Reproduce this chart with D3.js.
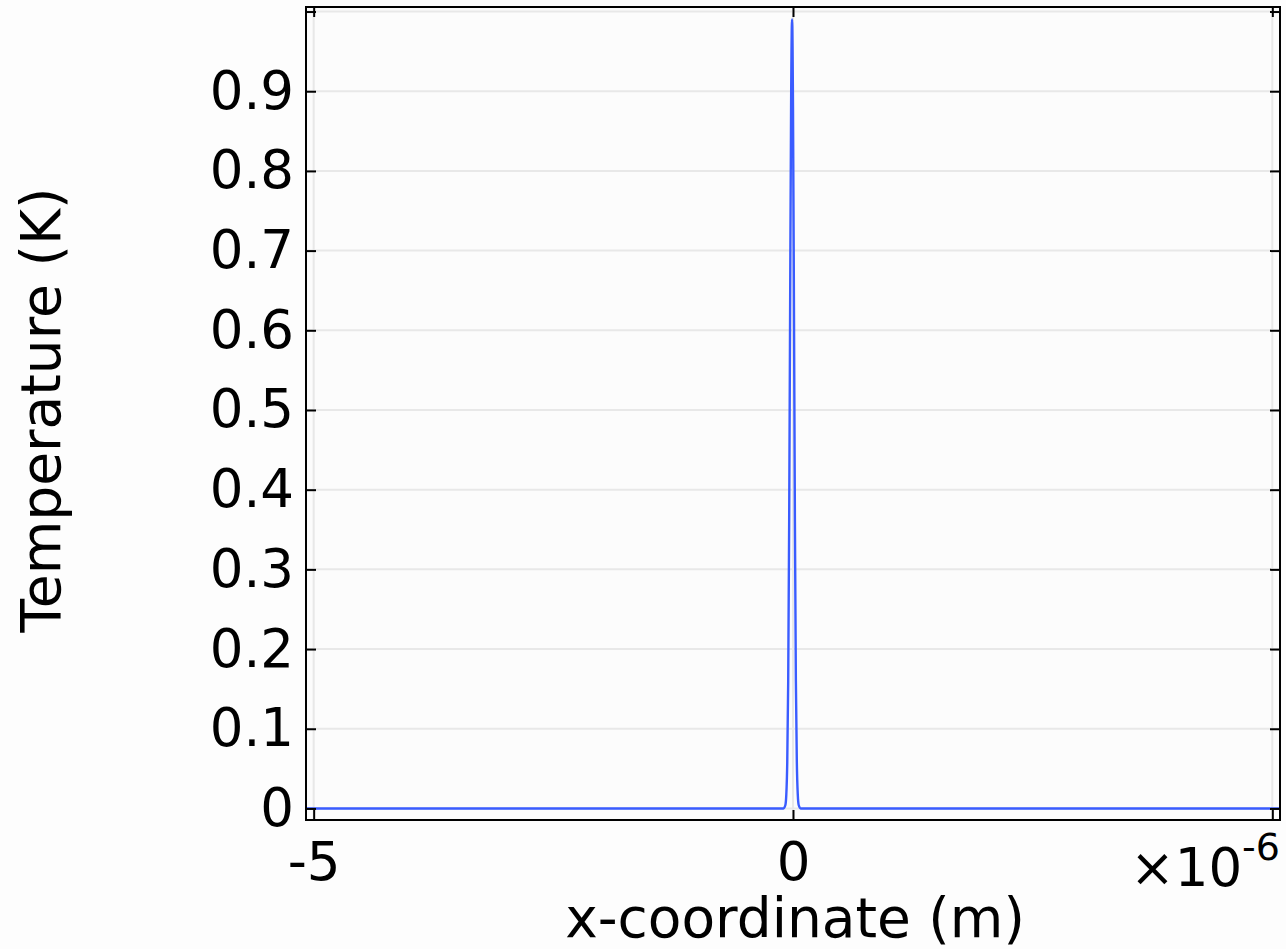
<!DOCTYPE html>
<html>
<head>
<meta charset="utf-8">
<script src="https://cdn.jsdelivr.net/npm/d3@7"></script>
<style>
  html, body { margin: 0; padding: 0; background: #fdfdfd; }
  svg { display: block; font-family: "DejaVu Sans", sans-serif; }
</style>
</head>
<body>
<svg id="chart" width="1286" height="949"></svg>
<script>
// Temperature profile along the x-coordinate (x in micrometres, scaled by 1e-6 on the axis)
const xMicro = [-5.08, -0.10, -0.08, -0.07, -0.06, -0.05, -0.04, -0.03, -0.02, -0.01,
                0.00, 0.01, 0.02, 0.03, 0.04, 0.05, 0.06, 0.08, 5.08];
const temperature = [0, 0, 0.004, 0.017, 0.058, 0.16, 0.36, 0.63, 0.88, 0.99,
                     0.88, 0.63, 0.36, 0.16, 0.058, 0.017, 0.004, 0, 0];

const yTicks = [0, 0.1, 0.2, 0.3, 0.4, 0.5, 0.6, 0.7, 0.8, 0.9, 1.0];
const yTickLabels = ["0", "0.1", "0.2", "0.3", "0.4", "0.5", "0.6", "0.7", "0.8", "0.9", ""];
const xTicks = [-5, 0, 5];
const xTickLabels = ["-5", "0", ""];

const xTitle = "x-coordinate (m)";
const yTitle = "Temperature (K)";

const points = xMicro.map((x, i) => ({ x, t: temperature[i] }));

const svg = d3.select("#chart");
const plot = { left: 306, right: 1280, top: 7, bottom: 820 };

const x = d3.scaleLinear().domain([-5.08, 5.08]).range([plot.left, plot.right]);
const y = d3.scaleLinear().domain([-0.0145, 1.0057]).range([plot.bottom, plot.top]);

// plot background
svg.append("rect")
  .attr("x", plot.left).attr("y", plot.top)
  .attr("width", plot.right - plot.left).attr("height", plot.bottom - plot.top)
  .attr("fill", "#fcfcfc");

// grid lines
const grid = svg.append("g").attr("stroke", "#e8e8e8").attr("stroke-width", 2);
grid.selectAll("line.h").data(yTicks).join("line")
  .attr("x1", plot.left).attr("x2", plot.right)
  .attr("y1", d => y(d)).attr("y2", d => y(d));
grid.selectAll("line.v").data(xTicks).join("line")
  .attr("y1", plot.top).attr("y2", plot.bottom)
  .attr("x1", d => x(d)).attr("x2", d => x(d));

// data line
const line = d3.line().x(d => x(d.x)).y(d => y(d.t)).curve(d3.curveMonotoneX);
svg.append("path")
  .datum(points)
  .attr("d", line)
  .attr("fill", "none")
  .attr("stroke", "#3a5cff")
  .attr("stroke-width", 2.4)
  .attr("stroke-linejoin", "round");

// axes with inward ticks on all four sides
const tickLen = 10;
const axL = d3.axisLeft(y).tickValues(yTicks).tickSize(-tickLen).tickFormat((d, i) => yTickLabels[i]).tickPadding(12);
const axR = d3.axisRight(y).tickValues(yTicks).tickSize(-tickLen).tickFormat("");
const axB = d3.axisBottom(x).tickValues(xTicks).tickSize(-tickLen).tickFormat((d, i) => xTickLabels[i]).tickPadding(22);
const axT = d3.axisTop(x).tickValues(xTicks).tickSize(-tickLen).tickFormat("");

function styleAxis(g) {
  g.select(".domain").remove();
  g.selectAll(".tick line").attr("stroke", "#000").attr("stroke-width", 2);
  g.selectAll(".tick text").attr("fill", "#000").attr("font-size", 53)
    .attr("font-family", "'DejaVu Sans', sans-serif");
}

svg.append("g").attr("transform", `translate(${plot.left},0)`).call(axL).call(styleAxis);
svg.append("g").attr("transform", `translate(${plot.right},0)`).call(axR).call(styleAxis);
svg.append("g").attr("transform", `translate(0,${plot.bottom})`).call(axB).call(styleAxis);
svg.append("g").attr("transform", `translate(0,${plot.top})`).call(axT).call(styleAxis);

// frame
svg.append("rect")
  .attr("x", plot.left).attr("y", plot.top)
  .attr("width", plot.right - plot.left).attr("height", plot.bottom - plot.top)
  .attr("fill", "none").attr("stroke", "#000").attr("stroke-width", 2);

// axis scale factor
const mult = svg.append("text")
  .attr("x", plot.right).attr("y", 886)
  .attr("text-anchor", "end")
  .attr("font-size", 53).attr("fill", "#000");
mult.append("tspan").text("\u00d710");
mult.append("tspan").attr("font-size", 38).attr("dy", -26).text("-6");

// axis titles
svg.append("text")
  .attr("x", 795).attr("y", 937)
  .attr("text-anchor", "middle")
  .attr("font-size", 55).attr("fill", "#000")
  .text(xTitle);

svg.append("text")
  .attr("transform", "translate(60,410) rotate(-90)")
  .attr("text-anchor", "middle")
  .attr("font-size", 55).attr("fill", "#000")
  .text(yTitle);
</script>
</body>
</html>
